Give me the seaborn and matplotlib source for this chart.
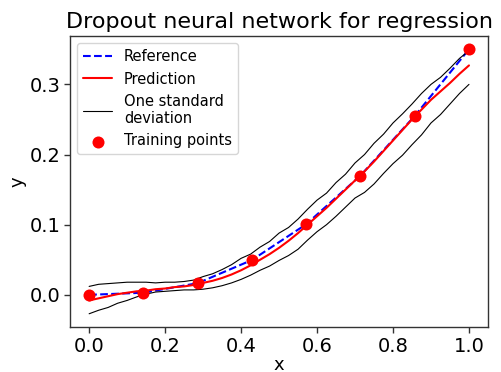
import numpy as np
import pandas as pd
import matplotlib
matplotlib.use("Agg")
import matplotlib.pyplot as plt
import seaborn as sns

# Training points
x_train = [0.0, 1/7, 2/7, 3/7, 4/7, 5/7, 6/7, 1.0]
y_train = [0.000, 0.003, 0.0166, 0.0496, 0.1006, 0.170, 0.255, 0.350]

# Grid for prediction / std bands
x_grid = [0.000, 0.025, 0.050, 0.075, 0.100, 0.125, 0.150, 0.175, 0.200, 0.225,
          0.250, 0.275, 0.300, 0.325, 0.350, 0.375, 0.400, 0.425, 0.450, 0.475,
          0.500, 0.525, 0.550, 0.575, 0.600, 0.625, 0.650, 0.675, 0.700, 0.725,
          0.750, 0.775, 0.800, 0.825, 0.850, 0.875, 0.900, 0.925, 0.950, 0.975, 1.000]

y_pred = [-0.008, -0.005, -0.002, 0.001, 0.003, 0.005, 0.006, 0.008, 0.009, 0.011,
          0.012, 0.014, 0.017, 0.020, 0.024, 0.029, 0.035, 0.042, 0.050, 0.058,
          0.067, 0.077, 0.088, 0.100, 0.112, 0.124, 0.137, 0.150, 0.163, 0.176,
          0.190, 0.205, 0.220, 0.235, 0.250, 0.264, 0.278, 0.290, 0.302, 0.315, 0.327]

y_upper = [0.012, 0.015, 0.016, 0.017, 0.018, 0.018, 0.018, 0.017, 0.018, 0.018,
           0.019, 0.021, 0.026, 0.030, 0.036, 0.043, 0.052, 0.058, 0.068, 0.076,
           0.088, 0.096, 0.108, 0.122, 0.135, 0.145, 0.160, 0.172, 0.188, 0.200,
           0.216, 0.229, 0.245, 0.258, 0.272, 0.287, 0.300, 0.310, 0.323, 0.337, 0.348]

y_lower = [-0.027, -0.022, -0.018, -0.012, -0.008, -0.003, 0.001, 0.004, 0.005, 0.006,
           0.007, 0.007, 0.008, 0.010, 0.013, 0.017, 0.022, 0.028, 0.035, 0.041,
           0.049, 0.056, 0.065, 0.078, 0.090, 0.100, 0.112, 0.125, 0.138, 0.146,
           0.158, 0.173, 0.187, 0.199, 0.214, 0.228, 0.245, 0.257, 0.272, 0.287, 0.300]

sns.set_style("ticks")
plt.rcParams['font.family'] = ['DejaVu Sans']
plt.rcParams['text.color'] = 'black'
plt.rcParams['axes.labelcolor'] = 'black'

fig = plt.figure(figsize=(5.01, 3.72), dpi=100)
ax = fig.add_axes([0.140, 0.121, 0.834, 0.782])

df_ref = pd.DataFrame({"x": x_train, "y": y_train})
df_grid = pd.DataFrame({"x": x_grid, "pred": y_pred, "up": y_upper, "lo": y_lower})

sns.lineplot(data=df_ref, x="x", y="y", ax=ax, color="blue", linestyle="--",
             linewidth=1.5, label="Reference")
sns.lineplot(data=df_grid, x="x", y="pred", ax=ax, color="red", linewidth=1.5,
             label="Prediction")
sns.lineplot(data=df_grid, x="x", y="up", ax=ax, color="black", linewidth=0.8,
             label="One standard\ndeviation")
sns.lineplot(data=df_grid, x="x", y="lo", ax=ax, color="black", linewidth=0.8)
sns.scatterplot(data=df_ref, x="x", y="y", ax=ax, color="red", s=75,
                edgecolor="red", linewidth=0, label="Training points", zorder=5)

ax.set_xticks([0.0, 0.2, 0.4, 0.6, 0.8, 1.0])
ax.set_yticks([0.0, 0.1, 0.2, 0.3])
ax.tick_params(labelsize=14, length=4, width=1, colors="#333333", labelcolor="black", pad=3)
for s in ax.spines.values():
    s.set_visible(True)
    s.set_color("#333333")
    s.set_linewidth(1)
ax.set_xlabel("x", fontsize=13, labelpad=0)
ax.set_ylabel("y", fontsize=13, labelpad=2)
ax.set_title("Dropout neural network for regression", fontsize=16, color="black")
ax.margins(x=0.05, y=0.05)
leg = ax.legend(loc="upper left", fontsize=10.5, frameon=True)
leg.get_frame().set_edgecolor("#cccccc")
for t in leg.get_texts():
    t.set_color("black")

fig.savefig("out.png", dpi=100)
